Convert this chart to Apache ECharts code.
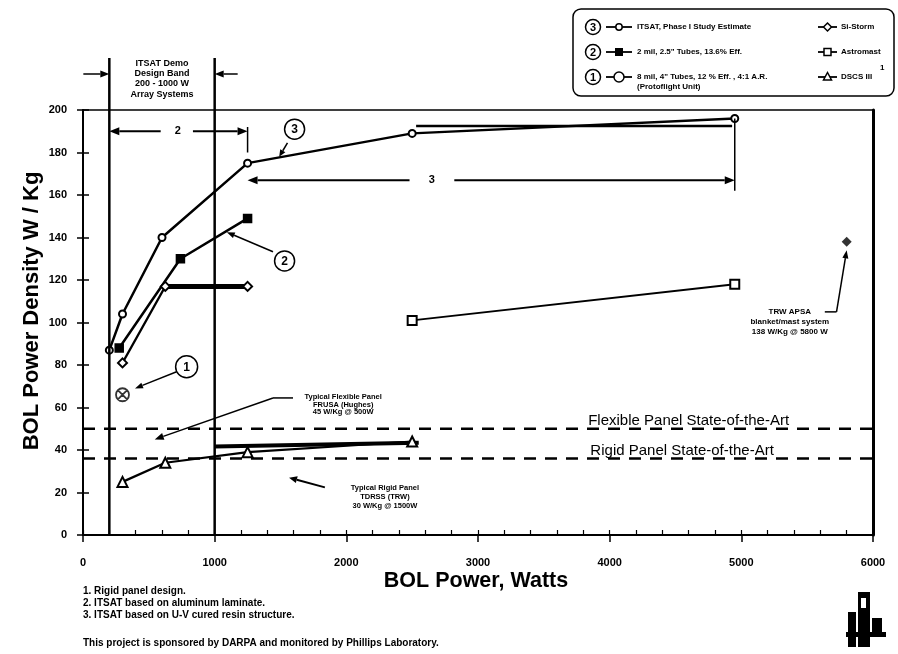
<!DOCTYPE html>
<html><head><meta charset="utf-8">
<script src="https://cdn.jsdelivr.net/npm/echarts@6/dist/echarts.min.js"></script>
<style>html,body{margin:0;padding:0;background:#fff}#c{width:898px;height:654px}</style>
</head><body><div id="c"></div>
<script>
// ---- data ----
const xTickValues = [0,1000,2000,3000,4000,5000,6000];
const yTickValues = [0,20,40,60,80,100,120,140,160,180,200];
const itsat = [[200,87],[300,104],[600,140],[1250,175],[2500,189],[4950,196]];
const itsatUpper = [[2530,192.5],[4930,192.5]];
const mil2 = [[275,88],[740,130],[1250,149]];
const siStorm = [[300,81],[625,117],[1250,117]];
const siStormBar = [[625,117],[1250,117]];
const astromast = [[2500,101],[4950,118]];
const dscs = [[300,25],[625,34],[1250,39],[2500,44]];
const dscsBar = [[1000,41.6],[2550,43.4]];
const mil8 = [[300,66]];
const frusa = [[500,44]];
const tdrss = [[1500,29]];
const trwApsa = [[5800,138]];
const flexibleSOA = 50;
const rigidSOA = 36;
const bandEdges = [200,1000];

const FONT = '"Liberation Sans", Arial, Helvetica, sans-serif';
const crossCircle = 'path://M10,0 A10,10 0 1,1 10,20 A10,10 0 1,1 10,0 Z M2.9,2.9 L17.1,17.1 M17.1,2.9 L2.9,17.1';

const chart = echarts.init(document.getElementById('c'), null, {renderer:'canvas'});
const lineS = (name, data, sym, size, w, fill) => ({
  name, type:'line', data, symbol:sym, symbolSize:size, showSymbol: !!sym,
  lineStyle:{color:'#000', width:w}, itemStyle:{color: fill || '#000', borderColor:'#000', borderWidth:1.5},
  z: 3, animation:false
});
const option = {
  animation:false,
  backgroundColor:'#fff',
  grid:{left:83, right:25, top:110, bottom:119, show:true, borderColor:'#000', borderWidth:1.5, backgroundColor:'transparent'},
  xAxis:[
    {type:'value', min:0, max:6000, interval:1000,
     axisLine:{show:true, onZero:false, lineStyle:{color:'#000', width:2}},
     axisTick:{show:true, length:7, lineStyle:{color:'#000', width:1.5}},
     minorTick:{show:false},
     splitLine:{show:false},
     axisLabel:{color:'#000', fontFamily:FONT, fontWeight:'bold', fontSize:11, margin:22,
       formatter:v=> xTickValues.includes(v) ? String(v) : ''}},
    {type:'value', min:0, max:6000, interval:1000, position:'bottom',
     axisLine:{show:false}, axisTick:{show:true, inside:true, length:5, lineStyle:{color:'#000', width:1.2}},
     minorTick:{show:true, splitNumber:5, length:5, lineStyle:{color:'#000', width:1.2}},
     splitLine:{show:false}, axisLabel:{show:false}}
  ],
  yAxis:[
    {type:'value', min:0, max:200, interval:20,
     axisLine:{show:true, onZero:false, lineStyle:{color:'#000', width:2}},
     axisTick:{show:true, length:6, lineStyle:{color:'#000', width:1.5}},
     splitLine:{show:false},
     axisLabel:{color:'#000', fontFamily:FONT, fontWeight:'bold', fontSize:11, margin:16,
       formatter:v=> yTickValues.includes(v) ? String(v) : ''}},
    {type:'value', min:0, max:200, interval:20, position:'left',
     axisLine:{show:false}, axisTick:{show:true, inside:true, length:6, lineStyle:{color:'#000', width:1.5}},
     splitLine:{show:false}, axisLabel:{show:false}},
    {type:'value', min:0, max:200, interval:20, position:'right',
     axisLine:{show:true, onZero:false, lineStyle:{color:'#000', width:3}}, axisTick:{show:false},
     splitLine:{show:false}, axisLabel:{show:false}}
  ],
  series:[
    lineS('ITSAT, Phase I Study Estimate', itsat, 'emptyCircle', 7, 2.5),
    lineS('ITSAT upper', itsatUpper, null, 0, 2.5),
    lineS('2 mil', mil2, 'rect', 8, 2.5),
    lineS('Si-Storm', siStorm, 'emptyDiamond', 9, 2.2),
    lineS('Si-Storm bar', siStormBar, null, 0, 5),
    lineS('Astromast', astromast, 'emptyRect', 9, 1.8),
    lineS('DSCS III', dscs, 'emptyTriangle', 10, 2.2),
    lineS('DSCS bar', dscsBar, null, 0, 4),
    {name:'8 mil', type:'scatter', data:mil8, symbol:crossCircle, symbolSize:13,
     itemStyle:{color:'#fff', borderColor:'#000', borderWidth:1.8}, z:4},
    {name:'FRUSA', type:'scatter', data:frusa, symbol:'emptyTriangle', symbolSize:10,
     itemStyle:{color:'#fff', borderColor:'#000', borderWidth:2}, z:4},
    {name:'TDRSS', type:'scatter', data:tdrss, symbol:'emptyTriangle', symbolSize:10,
     itemStyle:{color:'#fff', borderColor:'#000', borderWidth:2}, z:4},
    {name:'TRW APSA', type:'scatter', data:trwApsa, symbol:'diamond', symbolSize:10,
     itemStyle:{color:'#000'}, z:4},
    {name:'Flexible SOA', type:'line', data:[[0,flexibleSOA],[6000,flexibleSOA]], symbol:'none',
     lineStyle:{color:'#000', width:2.5, type:[12,9]}, z:2},
    {name:'Rigid SOA', type:'line', data:[[0,rigidSOA],[6000,rigidSOA]], symbol:'none',
     lineStyle:{color:'#000', width:2.5, type:[12,9]}, z:2}
  ]
};
chart.setOption(option);

const P = (x,y)=>chart.convertToPixel({seriesIndex:0},[x,y]);
const G = [];
function line(a,b,w){ G.push({type:'line', shape:{x1:a[0],y1:a[1],x2:b[0],y2:b[1]}, style:{stroke:'#000', lineWidth:w||1.5}, z:10}); }
function arrow(a,b,w,head,hw){
  w=w||1.5; head=head||9; hw=hw||3.5;
  const dx=b[0]-a[0], dy=b[1]-a[1], L=Math.hypot(dx,dy), ux=dx/L, uy=dy/L;
  const bx=b[0]-ux*head, by=b[1]-uy*head;
  line(a,[bx,by],w);
  G.push({type:'polygon', shape:{points:[[b[0],b[1]],[bx-uy*hw,by+ux*hw],[bx+uy*hw,by-ux*hw]]}, style:{fill:'#000'}, z:10});
}
function text(x,y,t,size,opts){
  opts=opts||{};
  G.push({type:'text', x, y, rotation:opts.rot||0, z:11, style:{text:t, fill:'#000', font:(opts.weight||'bold')+' '+size+'px '+FONT,
    textAlign:opts.align||'center', textVerticalAlign:'middle'}});
}
function circ(c,r,label,size){
  G.push({type:'circle', shape:{cx:c[0],cy:c[1],r}, style:{fill:'#fff', stroke:'#000', lineWidth:1.5}, z:10});
  text(c[0],c[1]+0.5,label,size||12);
}

const y0 = P(0,0)[1], yTop = P(0,200)[1];
// design band vertical lines
bandEdges.forEach(b=>{ const x=P(b,0)[0]; line([x,yTop-52],[x,y0],2.5); });
const xb0=P(bandEdges[0],0)[0], xb1=P(bandEdges[1],0)[0];
arrow([xb0-26,yTop-36],[xb0,yTop-36],1.5,9,3.5);
arrow([xb1+23,yTop-36],[xb1,yTop-36],1.5,9,3.5);
const bc=P(600,0)[0];
text(bc,yTop-46,'ITSAT Demo',9); text(bc,yTop-36,'Design Band',9);
text(bc,yTop-26,'200 - 1000 W',9); text(bc,yTop-15,'Array Systems',9);

// span arrow 2
arrow(P(590,190),P(200,190),2,10,4); arrow(P(835,190),P(1250,190),2,10,4);
text(P(720,190)[0],P(720,190)[1],'2',11);
line(P(1250,192),P(1250,180),1.5);
// span arrow 3
arrow(P(2480,167),P(1250,167),2,10,4); arrow(P(2820,167),P(4950,167),2,10,4);
text(P(2650,167)[0],P(2650,167)[1],'3',11);
line(P(4950,196),P(4950,162),1.5);

// callouts
circ(P(1607,191),10,'3'); arrow(P(1553,184.5),P(1490,178),1.5,7,3);
circ(P(1531,129),10,'2'); arrow(P(1443,133.3),P(1092,142.5),1.5,8,3);
circ(P(787,79.2),11,'1'); arrow(P(711,76.8),P(395,69),1.5,8,3);

// FRUSA
let c=P(1976,61.4);
text(c[0],c[1]-7.5,'Typical Flexible Panel',7.5); text(c[0],c[1],'FRUSA (Hughes)',7.5); text(c[0],c[1]+7.5,'45 W/Kg @ 500W',7.5);
line(P(1595,64.5),P(1443,64.5),1.5); arrow(P(1443,64.5),P(545,45),1.5,9,3.5);
// TDRSS
c=P(2293,17.8);
text(c[0],c[1]-9,'Typical Rigid Panel',7.5); text(c[0],c[1],'TDRSS (TRW)',7.5); text(c[0],c[1]+9,'30 W/Kg @ 1500W',7.5);
arrow(P(1837,22.4),P(1565,27),2,8,3.5);
// TRW APSA
c=P(5368,100.4);
text(c[0],c[1]-10,'TRW APSA',8); text(c[0],c[1],'blanket/mast system',8); text(c[0],c[1]+10,'138 W/Kg @ 5800 W',8);
line(P(5634,105),P(5723,105),1.5); arrow(P(5723,105),P(5800,134),1.5,8,3);
// state of the art labels
c=P(4600,53.6); text(c[0],c[1],'Flexible Panel State-of-the-Art',15,{weight:'normal'});
c=P(4550,39.8); text(c[0],c[1],'Rigid Panel State-of-the-Art',15,{weight:'normal'});

// axis titles
text(32,311,'BOL Power Density W / Kg',22,{rot:Math.PI/2});
text(476,581,'BOL Power, Watts',21.5);

// footnotes
text(83,591,'1. Rigid panel design.',10,{align:'left'});
text(83,603,'2. ITSAT based on aluminum laminate.',10,{align:'left'});
text(83,615,'3. ITSAT based on U-V cured resin structure.',10,{align:'left'});
text(83,643,'This project is sponsored by DARPA and monitored by Phillips Laboratory.',10,{align:'left'});

// legend box
G.push({type:'rect', shape:{x:573,y:9,width:321,height:87,r:8}, style:{fill:'#fff', stroke:'#000', lineWidth:1.5}, z:9});
const rows=[27,52,77];
circ([593,rows[0]],7.5,'3',11); circ([593,rows[1]],7.5,'2',11); circ([593,rows[2]],7.5,'1',11);
rows.forEach(r=>line([606,r],[632,r],1.8));
G.push({type:'circle', shape:{cx:619,cy:rows[0],r:3.2}, style:{fill:'#fff',stroke:'#000',lineWidth:1.5}, z:11});
G.push({type:'rect', shape:{x:615,y:rows[1]-4,width:8,height:8}, style:{fill:'#000'}, z:11});
G.push({type:'circle', shape:{cx:619,cy:rows[2],r:5}, style:{fill:'#fff',stroke:'#000',lineWidth:1.5}, z:11});
line([615.5,rows[2]-3.5],[622.5,rows[2]+3.5],1.3); line([622.5,rows[2]-3.5],[615.5,rows[2]+3.5],1.3);
text(637,rows[0],'ITSAT, Phase I Study Estimate',8,{align:'left'});
text(637,rows[1],'2 mil, 2.5" Tubes, 13.6% Eff.',8,{align:'left'});
text(637,rows[2],'8 mil, 4" Tubes, 12 % Eff. , 4:1 A.R.',8,{align:'left'});
text(637,rows[2]+10,'(Protoflight Unit)',8,{align:'left'});
rows.forEach(r=>line([818,r],[837,r],1.8));
G.push({type:'polygon', shape:{points:[[827.5,rows[0]-4],[831.5,rows[0]],[827.5,rows[0]+4],[823.5,rows[0]]]}, style:{fill:'#fff',stroke:'#000',lineWidth:1.5}, z:11});
G.push({type:'rect', shape:{x:824,y:rows[1]-3.5,width:7,height:7}, style:{fill:'#fff',stroke:'#000',lineWidth:1.5}, z:11});
G.push({type:'polygon', shape:{points:[[827.5,rows[2]-4.5],[831.5,rows[2]+3],[823.5,rows[2]+3]]}, style:{fill:'#fff',stroke:'#000',lineWidth:1.5}, z:11});
text(841,rows[0],'Si-Storm',8,{align:'left'});
text(841,rows[1],'Astromast',8,{align:'left'});
text(841,rows[2],'DSCS III',8,{align:'left'});
text(880,rows[2]-9,'1',8,{align:'left'});

// logo (rough sketch)
G.push({type:'rect', shape:{x:858,y:592,width:12,height:55}, style:{fill:'#000'}, z:10});
G.push({type:'rect', shape:{x:848,y:612,width:8,height:35}, style:{fill:'#000'}, z:10});
G.push({type:'rect', shape:{x:846,y:632,width:40,height:5}, style:{fill:'#000'}, z:10});
G.push({type:'rect', shape:{x:872,y:618,width:10,height:14}, style:{fill:'#000'}, z:10});
G.push({type:'rect', shape:{x:861,y:598,width:5,height:10}, style:{fill:'#fff'}, z:11});

chart.setOption({graphic: G});
</script></body></html>
